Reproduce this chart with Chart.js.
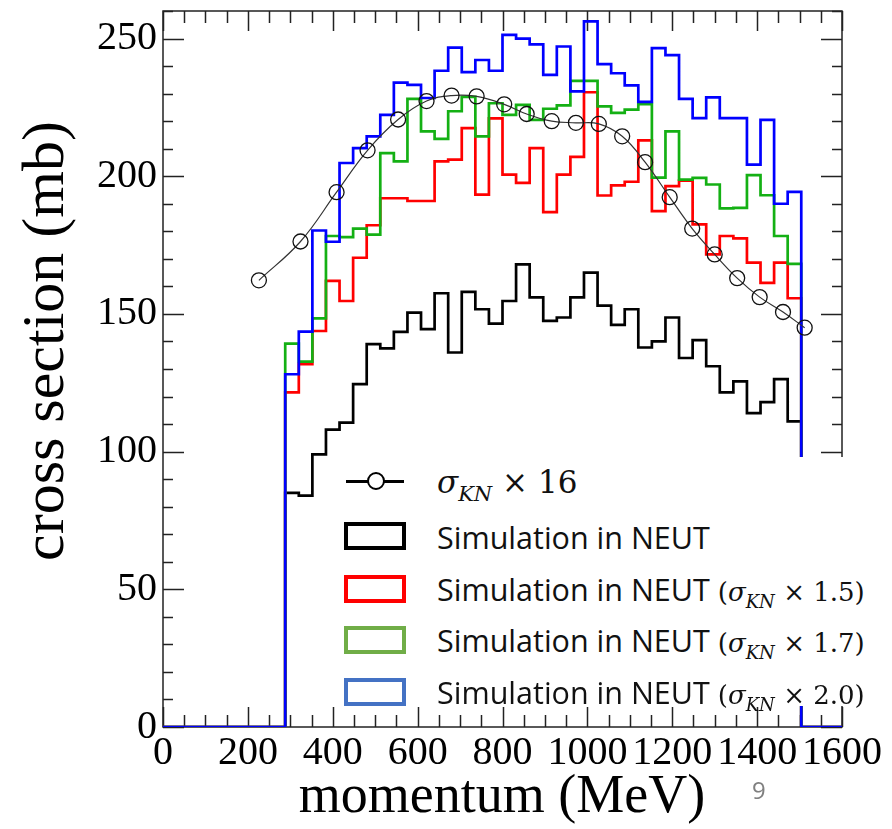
<!DOCTYPE html>
<html>
<head>
<meta charset="utf-8">
<script src="https://cdn.jsdelivr.net/npm/chart.js@4.4.1/dist/chart.umd.min.js"></script>
<style>
  html, body { margin: 0; padding: 0; background: #fff; }
  #wrap { position: relative; width: 892px; height: 829px; overflow: hidden; }
  #chart { position: absolute; left: 0; top: 0; }
  #legend { position: absolute; left: 330px; top: 457px; width: 562px; height: 249px; background: #fff; }
  .row { position: absolute; white-space: nowrap; font-family: "Open Sans", sans-serif; font-size: 30.5px; line-height: 30px; color: #111; }
  .box { position: absolute; box-sizing: border-box; width: 62px; height: 28px; border: 4px solid; background: #fff; }
  .m { font-family: "DejaVu Serif", serif; font-size: 26px; }
  .m sub { font-size: 18px; vertical-align: baseline; position: relative; top: 7px; }
  .big { font-size: 31px; }
  .big sub { font-size: 21px; top: 8px; }
  #page { position: absolute; left: 752px; top: 778px; font-family: "Open Sans", sans-serif; font-size: 24px; line-height: 24px; color: #808080; }
</style>
</head>
<body>
<div id="wrap">
  <canvas id="chart" width="892" height="829"></canvas>
  <div id="legend"></div>
  <div style="position:absolute; left:346px; top:480px; width:58px; height:3px; background:#000;"></div>
  <div style="position:absolute; left:367px; top:472px; width:14px; height:14px; border:2px solid #000; border-radius:50%; background:#fff;"></div>
  <div class="row" style="left:437px; top:466px;"><span class="m big"><i>σ</i><sub><i>KN</i></sub> × 16</span></div>

  <div class="box" style="left:344px; top:522px; border-color:#000;"></div>
  <div class="row" style="left:437px; top:522px;">Simulation in NEUT</div>
  <div class="box" style="left:344px; top:575px; border-color:#ff0000;"></div>
  <div class="row" style="left:437px; top:574px;">Simulation in NEUT <span class="m">(<i>σ</i><sub><i>KN</i></sub> × 1.5)</span></div>
  <div class="box" style="left:344px; top:626px; border-color:#70ad47;"></div>
  <div class="row" style="left:437px; top:625px;">Simulation in NEUT <span class="m">(<i>σ</i><sub><i>KN</i></sub> × 1.7)</span></div>
  <div class="box" style="left:344px; top:678px; border-color:#4472c4;"></div>
  <div class="row" style="left:437px; top:677px;">Simulation in NEUT <span class="m">(<i>σ</i><sub><i>KN</i></sub> × 2.0)</span></div>

  <div id="page">9</div>
</div>
<script>
// histogram binning (MeV)
const BIN_WIDTH = 32;
const FIRST_EDGE = 288;
const X_MAX = 1600;
const Y_MAX = 260;

// cross section per bin (mb), bins from FIRST_EDGE onward
const neut = [85, 84, 99, 108, 110.5, 124.5, 139, 137.5, 143.5, 150.5, 144.5, 157.5, 136, 158, 151.7, 146.5, 154.7, 168, 156, 147.5, 148.7, 156, 165, 153, 146, 151.7, 137.8, 140, 148.7, 134, 140.5, 131, 121.5, 125.5, 114, 118, 126.3, 111];
const neut15 = [121.5, 131.8, 143.8, 162, 154.7, 170.4, 182.2, 192, 192, 191, 191, 205.4, 206, 217.5, 193.3, 221, 200.6, 197.6, 210.2, 187, 200.6, 207, 230.5, 193, 196.7, 198, 213, 187.3, 196.4, 198.4, 182.5, 171.6, 178.3, 177.4, 168.6, 161.3, 168.6, 155.7];
const neut17 = [139.2, 132.7, 148.4, 178.3, 177.9, 181, 178.8, 208.4, 205.4, 228.1, 216.3, 213.6, 223.6, 228.8, 214.5, 226.5, 222.3, 225.9, 220.5, 224.5, 225.7, 234.6, 234.6, 225.4, 223, 224.2, 226.2, 199.5, 216.3, 198.8, 199.4, 197, 188.3, 188.5, 200.4, 193.1, 178.3, 168.2];
const neut20 = [128.1, 143.6, 180.3, 176.2, 204.8, 210.2, 214.5, 222.3, 234, 233.2, 228.4, 238.3, 246.7, 237.8, 242.2, 238.3, 251.3, 250, 247.9, 236.8, 247.1, 230.8, 256.2, 240.7, 237.4, 233, 227, 246.5, 244, 228.1, 221.1, 228.6, 221.1, 221.1, 204.2, 220.5, 190, 194.3];

// K N total cross section scaled by 16
const sigmaMomentum = [226, 324, 409, 482, 554, 621, 680, 739, 804, 857, 916, 973, 1027, 1082, 1136, 1194, 1247, 1300, 1353, 1406, 1461, 1512];
const sigmaKN16 = [162.2, 176.3, 194.2, 209.4, 220.6, 227.3, 229.3, 229, 226.1, 222.6, 220, 219.4, 219, 214.5, 205.1, 192.4, 181, 171.6, 163, 156.1, 150.7, 145];

const xTicks = [0, 200, 400, 600, 800, 1000, 1200, 1400, 1600];
const yTicks = [0, 50, 100, 150, 200, 250];

function histPoints(vals) {
  const pts = [{ x: 0, y: 0 }];
  vals.forEach((v, i) => pts.push({ x: FIRST_EDGE + i * BIN_WIDTH, y: v }));
  pts.push({ x: FIRST_EDGE + vals.length * BIN_WIDTH, y: 0 });
  pts.push({ x: X_MAX, y: 0 });
  return pts;
}

function histSet(vals, color) {
  return {
    data: histPoints(vals),
    borderColor: color,
    borderWidth: 2.7,
    stepped: 'before', // horizontal to the next edge, then vertical
    pointRadius: 0,
    fill: false,
    borderJoinStyle: 'miter'
  };
}

// frame with ticks on all four sides, pointing inward
const frameTicks = {
  id: 'frameTicks',
  beforeDatasetsDraw(chart) {
    const { ctx, chartArea: a, scales: { x, y } } = chart;
    ctx.save();
    ctx.strokeStyle = '#222';
    ctx.lineWidth = 1.5;
    ctx.strokeRect(a.left, a.top, a.right - a.left, a.bottom - a.top);
    ctx.beginPath();
    for (let v = 0; v <= X_MAX; v += 50) {
      const px = Math.round(x.getPixelForValue(v)) + 0.5;
      const len = v % 200 === 0 ? 20 : 12;
      ctx.moveTo(px, a.bottom); ctx.lineTo(px, a.bottom - len);
      ctx.moveTo(px, a.top); ctx.lineTo(px, a.top + len);
    }
    for (let v = 0; v <= Y_MAX; v += 10) {
      const py = Math.round(y.getPixelForValue(v)) + 0.5;
      const len = v % 50 === 0 ? 21 : 10;
      ctx.moveTo(a.left, py); ctx.lineTo(a.left + len, py);
      ctx.moveTo(a.right, py); ctx.lineTo(a.right - len, py);
    }
    ctx.stroke();
    ctx.restore();
  },
  afterDraw(chart) {
    const { ctx } = chart;
    ctx.save();
    ctx.fillStyle = '#000';
    ctx.textAlign = 'center';
    ctx.textBaseline = 'alphabetic';
    ctx.font = '54px "Liberation Serif"';
    ctx.fillText('momentum (MeV)', 502, 812);
    ctx.font = '60px "Liberation Serif"';
    ctx.translate(63, 341);
    ctx.rotate(-Math.PI / 2);
    ctx.fillText('cross section (mb)', 0, 0);
    ctx.restore();
  }
};

const tickFont = { family: 'Liberation Serif', size: 40 };

new Chart(document.getElementById('chart'), {
  type: 'line',
  data: {
    datasets: [
      {
        data: sigmaMomentum.map((m, i) => ({ x: m, y: sigmaKN16[i] })),
        borderColor: '#333',
        borderWidth: 1.2,
        tension: 0.4,
        pointRadius: 7.5,
        pointBorderWidth: 1.3,
        pointBorderColor: '#111',
        pointBackgroundColor: 'rgba(0,0,0,0)',
        fill: false
      },
      histSet(neut20, '#0000ff'),
      histSet(neut17, '#14b014'),
      histSet(neut15, '#ff0000'),
      histSet(neut, '#000000')
    ]
  },
  options: {
    responsive: false,
    animation: false,
    devicePixelRatio: 1,
    layout: { padding: { top: 11, right: 50, left: 0, bottom: 0 } },
    plugins: { legend: { display: false }, tooltip: { enabled: false } },
    scales: {
      x: {
        type: 'linear',
        min: 0,
        max: X_MAX,
        afterFit: s => { s.height = 102; },
        afterBuildTicks: s => { s.ticks = xTicks.map(v => ({ value: v })); },
        ticks: { font: tickFont, color: '#000', padding: 2, maxRotation: 0, autoSkip: false, callback: v => String(v) },
        grid: { display: false, drawTicks: false },
        border: { display: false }
      },
      y: {
        min: 0,
        max: Y_MAX,
        afterFit: s => { s.width = 163; s.paddingTop = 0; s.paddingBottom = 0; },
        afterBuildTicks: s => { s.ticks = yTicks.map(v => ({ value: v })); },
        ticks: { font: tickFont, color: '#000', padding: 6, callback: v => String(v) },
        grid: { display: false, drawTicks: false },
        border: { display: false }
      }
    }
  },
  plugins: [frameTicks]
});
</script>
</body>
</html>
